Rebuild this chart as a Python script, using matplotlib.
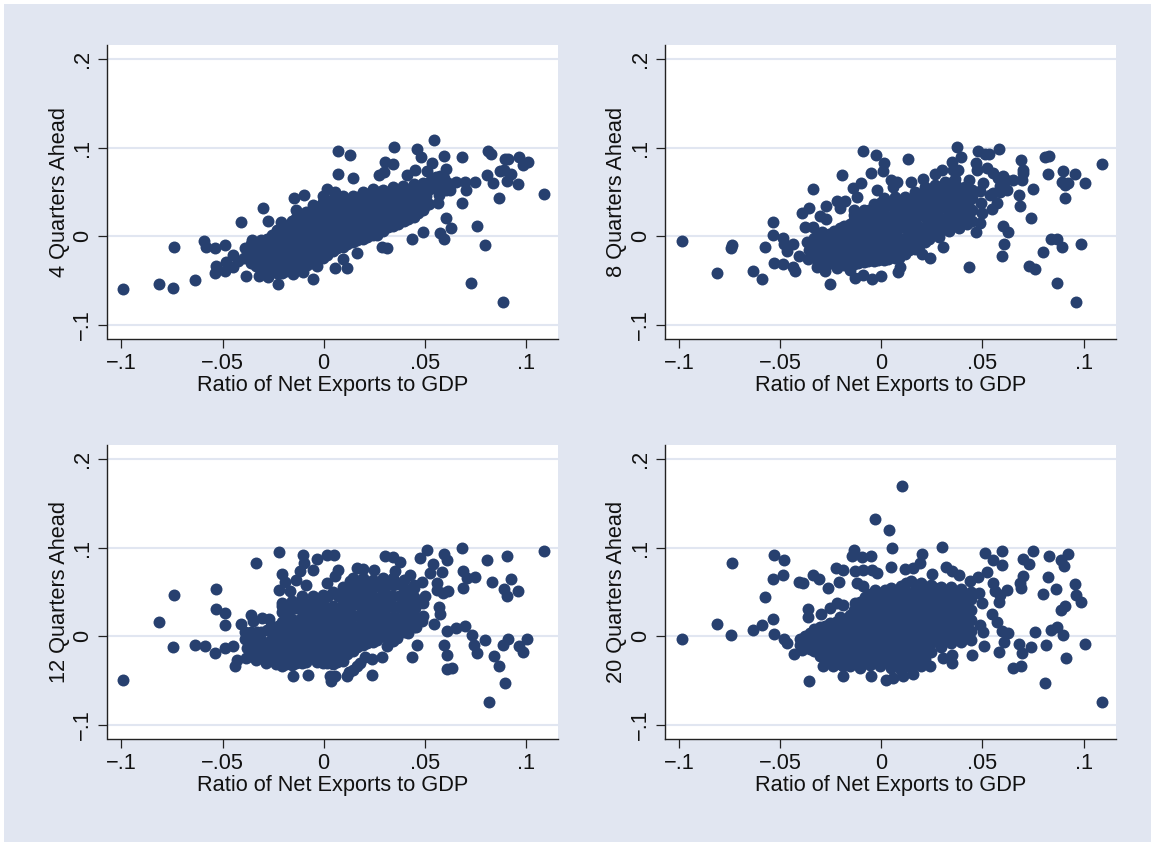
import matplotlib
matplotlib.use("Agg")
import matplotlib.pyplot as plt
from matplotlib.patches import Rectangle

plt.rcParams['font.family'] = ['Liberation Sans', 'DejaVu Sans']

BG = '#E1E6F1'
NAVY = '#27406F'

xticks = [-0.1, -0.05, 0, 0.05, 0.1]
xticklabels = ['\u2212.1', '\u2212.05', '0', '.05', '.1']
yticks = [-0.1, 0, 0.1, 0.2]
yticklabels = ['\u2212.1', '0', '.1', '.2']
xlabel = 'Ratio of Net Exports to GDP'

# values: (net exports ratio, value ahead)
pts_4q = [
    (-.099, -.059), (-.0815, -.0536), (-.0744, -.0581), (-.0634, -.049), (-.0739, -.0117),
    (-.0591, -.0049), (-.0583, -.0125), (-.0538, -.0132), (-.0487, -.0102), (-.0411, .0166),
    (-.030, .0321), (-.0274, .0177), (-.0538, -.0411), (-.0533, -.0336), (-.0488, -.0389),
    (-.0483, -.0287), (-.0447, -.0343), (-.0447, -.0211), (-.0383, -.0445), (-.0322, -.0449),
    (-.0274, -.0457), (-.0226, -.054), (-.0153, -.0426), (-.0101, -.0404), (-.0054, -.0487),
    (-.0031, -.0336), (.0056, -.0355), (.0117, -.0362), (.0097, -.026), (.0167, -.0192),
    (.0287, -.0117), (.0312, -.0136), (.0436, -.003), (.049, .0053), (.0576, .0042),
    (.0596, -.0026), (.063, .0091), (.0607, .0204), (.0685, .0374), (.0757, .0117),
    (.08, -.0094), (.0731, -.0532), (.0889, -.074), (.1091, .0479), (.0866, .0434),
    (.0959, .0585), (.0909, .0626), (.0926, .0706), (.0893, .0751), (.087, .0732),
    (.084, .06), (.081, .0687), (.0749, .0611), (.07, .0611), (.0703, .0517),
    (.0655, .0611), (.0686, .0894), (.0597, .0906), (.0546, .1091), (.0464, .0985),
    (.048, .0894), (.0535, .0826), (.0348, .1008), (.0071, .0958), (.0132, .0913),
    (.0304, .0834), (.0342, .0815), (.0276, .0687), (.03, .0721), (.0071, .0698),
    (.0144, .0653), (.0815, .0962), (.0827, .0925), (.0898, .0868), (.0914, .0868),
    (.0967, .0894), (.1012, .0842), (.0988, .08), (.0606, .0758), (.0576, .0675),
    (.051, .0732), (.0452, .0751), (.0414, .0694), (.0615, .06), (.0585, .052),
    (.056, .061), (.0625, .0525), (.053, .063), (.0492, .0605), (.0472, .055),
    (.052, .037), (.0565, .0375), (.0495, .0325), (.0452, .0415), (.0505, .045),
    (-.0145, .0435), (-.0098, .0465), (.0015, .053), (.0055, .0505), (.0095, .0455),
    (-.0135, .0295), (-.021, .0165), (-.0128, .0225),
    (.0535, .055), (.057, .047), (.0605, .052), (.0555, .067), (.0515, .052), (.0595, .066),
    # dense middle of the cloud
    (-.0395, -.0245), (-.0388, -.0135), (-.0425, -.028),
    (-.0335, -.034), (-.0328, -.022), (-.0332, -.0105), (-.0355, -.0045),
    (-.0282, -.037), (-.0276, -.025), (-.0285, -.014), (-.0279, -.003),
    (-.0232, -.041), (-.0228, -.029), (-.0235, -.018), (-.0226, -.006), (-.0231, .0075),
    (-.0184, -.039), (-.0178, -.027), (-.0186, -.015), (-.0176, -.003), (-.0182, .0115),
    (-.0134, -.035), (-.0128, -.023), (-.0136, -.011), (-.0127, .001), (-.0131, .012), (-.0138, .021),
    (-.0084, -.032), (-.0078, -.02), (-.0086, -.008), (-.0077, .004), (-.0081, .015), (-.0085, .027),
    (-.0034, -.027), (-.0028, -.015), (-.0036, -.003), (-.0027, .009), (-.0031, .02), (-.0035, .033),
    (.0016, -.021), (.0022, -.009), (.0014, .003), (.0023, .015), (.0019, .027), (.0015, .04),
    (.0066, -.013), (.0072, -.001), (.0064, .011), (.0073, .023), (.0069, .036),
    (.0116, -.009), (.0122, .003), (.0114, .015), (.0123, .027), (.0119, .038),
    (.0166, -.004), (.0172, .008), (.0164, .02), (.0173, .032), (.0169, .044),
    (.0216, -.001), (.0222, .011), (.0214, .023), (.0223, .035), (.0219, .048),
    (.0266, .002), (.0272, .014), (.0264, .026), (.0273, .038), (.0269, .05),
    (.0316, .01), (.0322, .022), (.0314, .034), (.0323, .046), (.0345, .052),
    (.0366, .014), (.0372, .026), (.0364, .038), (.0373, .05), (.039, .057),
    (.0416, .019), (.0422, .031), (.0414, .043), (.0423, .052), (.0445, .059),
    (.0465, .026), (.0472, .038), (.0464, .048),
]

# more of the solid cloud, by net exports ratio
fill_4q = {
    -.036: [-.03, -.024, -.018, -.014, -.009],
    -.031: [-.037, -.031, -.026, -.02, -.015, -.009, -.004],
    -.0255: [-.04, -.034, -.03, -.024, -.02, -.014, -.009, -.004, .001],
    -.0205: [-.042, -.037, -.033, -.027, -.022, -.017, -.012, -.006, 0, .005, .01],
    -.0155: [-.036, -.031, -.026, -.02, -.014, -.009, -.004, .002, .007, .012, .017],
    -.0105: [-.034, -.029, -.023, -.018, -.012, -.007, -.002, .005, .01, .016, .021],
    -.0055: [-.03, -.025, -.02, -.014, -.009, -.003, .002, .008, .014, .02, .026, .03, .035],
    -.0005: [-.024, -.019, -.014, -.008, -.002, .003, .009, .015, .021, .027, .033, .039, .045],
    .0045: [-.017, -.011, -.006, 0, .006, .012, .018, .024, .03, .036, .042],
    .0095: [-.012, -.007, -.002, .004, .01, .016, .022, .028, .033, .04],
    .0145: [-.006, -.001, .004, .009, .014, .02, .026, .032, .039, .046],
    .0195: [-.003, .001, .006, .012, .017, .023, .029, .035, .042, .046, .05],
    .0245: [.001, .005, .009, .015, .02, .026, .032, .038, .044, .049, .053],
    .0295: [.006, .011, .016, .022, .028, .034, .04, .046, .052],
    .0345: [.012, .016, .02, .026, .032, .038, .043, .05, .056],
    .0395: [.017, .021, .026, .032, .037, .043, .048, .054],
    .0445: [.022, .028, .033, .039, .045, .05, .056],
    .049: [.03, .041, .05],
}

pts_8q = [
    (-.0988, -.0053), (-.0812, -.0411), (-.0743, -.0128), (-.0738, -.0098), (-.0633, -.0392),
    (-.0591, -.0487), (-.0578, -.0121), (-.0537, .0166), (-.0535, .0011), (-.053, -.0306),
    (-.0488, -.0317), (-.0488, -.0023), (-.0484, -.0087), (-.0468, -.0162), (-.0435, -.0087),
    (-.0435, -.0343), (-.0427, -.0389), (-.041, -.0223), (-.0392, .026), (-.0357, .0321),
    (-.0336, .0532), (-.0303, .0234), (-.0275, .0347), (-.0275, .0196), (-.0377, .0109),
    (-.0336, .0102), (-.0295, .0053), (-.0252, -.0536), (-.0221, .04), (-.018, .04),
    (-.0204, .0317), (-.0193, .0687), (-.0142, .0547), (-.01, .06), (-.0122, .0449),
    (-.0138, .0298), (-.0089, .0958), (-.0028, .0913), (.0013, .083), (.001, .074),
    (-.0053, .0717), (-.0023, .0525), (.0046, .0638), (.0079, .0608), (.0059, .0551),
    (.0132, .0868), (.0145, .0608), (.0204, .0645), (.0265, .0706), (.0298, .0751),
    (.0348, .0838), (.0372, .1008), (.0394, .0894), (.0356, .0751), (.038, .0751),
    (.0476, .0966), (.0512, .0928), (.0532, .0928), (.0583, .0985), (.0468, .0826),
    (.0471, .0751), (.0521, .077), (.0554, .0713), (.0603, .0675), (.0689, .0864),
    (.0699, .0751), (.0702, .0713), (.0694, .0638), (.0652, .0638), (.0748, .0532),
    (.0682, .0464), (.0684, .0347), (.074, .0204), (.0619, .0525), (.0586, .0562),
    (.0554, .0487), (.0537, .0468), (.0504, .0604), (.0488, .0513), (.0491, .0374),
    (.057, .0374), (.0545, .0306), (.0496, .026), (.0488, .0147), (.0466, .0053),
    (.0603, .0117), (.0628, .0053), (.0606, -.0091), (.0595, -.0223), (.0306, -.0117),
    (.0199, -.0204), (.0241, -.0242), (.0435, -.0343), (.0801, -.0181), (.0728, -.0332),
    (.0758, -.0366), (.0837, -.0026), (.0867, -.0026), (.0891, -.0117), (.0985, -.0091),
    (.0867, -.0532), (.0964, -.074), (.1089, .0819), (.0809, .0894), (.083, .0909),
    (.0825, .0706), (.0896, .0732), (.0957, .0706), (.1007, .0604), (.0891, .0615),
    (.0908, .0574), (.0924, .0604), (.0909, .0434), (.0081, -.04), (.0092, -.0343),
    (-.013, -.0468), (-.0089, -.0438), (-.0048, -.0487), (-.0003, -.0449), (-.0155, -.0381),
    (-.0221, -.0362), (-.0278, -.0389), (-.0319, -.0343), (.0435, .063), (.0415, .055),
    (.0575, .0655), (.0615, .063), (.0585, .05),
    # dense middle of the cloud
    (-.0365, -.026), (-.0358, -.015), (-.0368, -.006),
    (-.0315, -.03), (-.0308, -.019), (-.0318, -.008), (-.0311, .001),
    (-.0265, -.031), (-.0258, -.02), (-.0268, -.009), (-.0261, .003),
    (-.0215, -.031), (-.0208, -.02), (-.0218, -.009), (-.0211, .002), (-.0206, .009),
    (-.0165, -.031), (-.0158, -.02), (-.0168, -.009), (-.0161, .003), (-.0156, .014),
    (-.0115, -.03), (-.0108, -.019), (-.0118, -.008), (-.0111, .004), (-.0106, .02),
    (-.0065, -.028), (-.0058, -.017), (-.0068, -.006), (-.0061, .006), (-.0056, .018), (-.0063, .03),
    (-.0015, -.027), (-.0008, -.016), (-.0018, -.004), (-.0011, .008), (-.0006, .02), (-.0013, .031), (-.0008, .038),
    (.0035, -.026), (.0042, -.015), (.0032, -.003), (.0039, .009), (.0044, .021), (.0037, .035),
    (.0085, -.024), (.0092, -.013), (.0082, -.001), (.0089, .011), (.0094, .023), (.0087, .036),
    (.0135, -.016), (.0142, -.005), (.0132, .007), (.0139, .018), (.0144, .03), (.0137, .041),
    (.0185, -.011), (.0192, .001), (.0182, .012), (.0189, .024), (.0194, .035), (.0187, .047),
    (.0235, -.003), (.0242, .009), (.0232, .02), (.0239, .032), (.0244, .043), (.0237, .052),
    (.0285, -.001), (.0292, .011), (.0282, .023), (.0289, .034), (.0294, .046), (.0287, .056),
    (.0335, .006), (.0342, .018), (.0332, .029), (.0339, .041), (.0344, .052), (.0337, .06),
    (.0385, .009), (.0392, .021), (.0382, .032), (.0389, .044), (.0394, .055),
    (.0425, .014), (.0432, .026), (.0428, .037), (.0434, .046),
]

fill_8q = {
    -.0335: [-.023, -.012, -.002],
    -.0285: [-.025, -.015, -.005, .002],
    -.0235: [-.025, -.015, -.004, .006],
    -.0185: [-.032, -.027, -.016, -.005, .006, .012],
    -.0135: [-.031, -.026, -.015, -.003, .009, .018, .024],
    -.0085: [-.029, -.024, -.012, 0, .012, .024, .03],
    -.0035: [-.028, -.023, -.011, .001, .013, .025, .036],
    .0015: [-.027, -.021, -.01, .002, .014, .026, .037, .043],
    .0065: [-.025, -.019, -.008, .004, .016, .028, .039, .044],
    .0115: [-.02, -.015, -.003, .009, .021, .033, .044],
    .0165: [-.014, -.009, .003, .015, .027, .039, .05],
    .0215: [-.007, -.001, .011, .022, .034, .045, .056],
    .0265: [.004, .016, .027, .039, .051, .058],
    .0315: [.008, .02, .032, .043, .055, .061],
    .0365: [.013, .025, .036, .048, .059, .065],
    .0415: [.018, .03, .04, .05, .056],
    .045: [.017, .03, .043, .052],
}

pts_12q = [
    (-.099, -.049), (-.0815, .0166), (-.0739, .0471), (-.0744, -.0124), (-.0634, -.0094),
    (-.0587, -.0113), (-.0538, -.0192), (-.0488, -.0128), (-.0447, -.0105), (-.0439, -.0331),
    (-.0431, -.0264), (-.0533, .0313), (-.053, .0531), (-.0488, .0264), (-.0487, .0128),
    (-.0409, .0139), (-.036, .0237), (-.0348, .0177), (-.0304, .0203), (-.0271, .0196),
    (-.0337, .0825), (-.0219, .0953), (-.0101, .0915), (-.0097, .0829), (-.0031, .0874),
    (.0015, .0923), (.0051, .0923), (-.0051, .0753), (-.0117, .0734), (-.0208, .0708),
    (-.0191, .061), (-.0137, .064), (-.0087, .0584), (-.0221, .052), (-.0167, .0508),
    (-.0208, .0377), (-.0109, .0452), (.0073, .0753), (.0056, .0678), (.0015, .0603),
    (.0163, .0772), (.0196, .0761), (.0251, .0753), (.013, .0621), (.0304, .0904),
    (.0345, .0896), (.0378, .084), (.0353, .0734), (.0427, .0697), (.0477, .0885),
    (.0513, .0972), (.0543, .0817), (.0596, .093), (.0609, .0859), (.0685, .0994),
    (.0526, .0716), (.0584, .0723), (.0485, .061), (.0502, .046), (.0493, .0377),
    (.0559, .0603), (.0563, .052), (.0617, .0508), (.0592, .049), (.0568, .0331),
    (.0576, .0252), (.0493, .0226), (.0485, .0169), (.0546, .0143), (.0612, .0056),
    (.0655, .0094), (.07, .0113), (.0733, .0011), (.0744, -.0094), (.0757, -.0188),
    (.08, -.0038), (.0596, -.0094), (.0609, -.0215), (.0609, -.0365), (.0634, -.0358),
    (.0464, -.0098), (.0436, -.0237), (.0312, -.0113), (.0345, -.0056), (.0287, -.0237),
    (.0238, -.0252), (.018, -.0301), (.0147, -.0377), (.0117, -.0452), (.0241, -.0437),
    (.0031, -.0444), (.0056, -.0444), (.0035, -.0501), (-.0078, -.0441), (-.0153, -.0444),
    (.0688, .0734), (.0708, .0659), (.0749, .067), (.0691, .0546), (.081, .0866),
    (.0909, .0904), (.1091, .096), (.0832, .0614), (.0926, .0648), (.0893, .0535),
    (.0909, .0452), (.0959, .0508), (.1008, -.0026), (.0914, -.003), (.0889, -.0102),
    (.0965, -.0113), (.0988, -.0181), (.0843, -.0218), (.0866, -.0339), (.0898, -.0527),
    (.0817, -.0742), (.0125, -.0405), (.0165, -.0335), (.0205, -.0235),
    # dense middle of the cloud
    (-.0385, -.024), (-.0378, -.013), (-.0388, -.003), (-.0391, .005),
    (-.0335, -.027), (-.0328, -.016), (-.0338, -.005), (-.0331, .005),
    (-.0285, -.03), (-.0278, -.019), (-.0288, -.008), (-.0281, .007),
    (-.0235, -.031), (-.0228, -.02), (-.0238, -.009), (-.0231, .002), (-.0226, .012),
    (-.0185, -.031), (-.0178, -.02), (-.0188, -.009), (-.0181, .003), (-.0176, .015), (-.0186, .028),
    (-.0135, -.03), (-.0128, -.019), (-.0138, -.007), (-.0131, .005), (-.0126, .017), (-.0136, .032),
    (-.0085, -.029), (-.0078, -.018), (-.0088, -.006), (-.0081, .006), (-.0076, .018), (-.0086, .03), (-.0079, .037),
    (-.0035, -.029), (-.0028, -.018), (-.0038, -.006), (-.0031, .006), (-.0026, .018), (-.0036, .03), (-.0029, .041),
    (.0015, -.03), (.0022, -.019), (.0012, -.007), (.0019, .005), (.0024, .017), (.0014, .029), (.0021, .046),
    (.0065, -.029), (.0072, -.018), (.0062, -.006), (.0069, .006), (.0074, .018), (.0064, .03), (.0071, .046),
    (.0115, -.02), (.0122, -.009), (.0112, .003), (.0119, .015), (.0124, .027), (.0114, .039), (.0121, .05),
    (.0165, -.012), (.0172, -.001), (.0162, .011), (.0169, .023), (.0174, .035), (.0164, .047), (.0171, .058),
    (.0215, -.008), (.0222, .003), (.0212, .015), (.0219, .027), (.0224, .039), (.0214, .051), (.0221, .058),
    (.0265, -.004), (.0272, .007), (.0262, .019), (.0269, .031), (.0274, .043), (.0264, .057),
    (.0315, -.002), (.0322, .009), (.0312, .021), (.0319, .033), (.0324, .045), (.0314, .058),
    (.0365, -.002), (.0372, .009), (.0362, .021), (.0369, .033), (.0374, .045), (.0364, .059),
    (.0415, .004), (.0422, .015), (.0412, .027), (.0419, .039), (.0424, .05),
    (.0455, .01), (.0462, .021), (.0452, .032), (.0459, .04),
]

fill_12q = {
    -.036: [-.022, -.012, -.002, .005],
    -.031: [-.023, -.014, -.004, .005],
    -.026: [-.024, -.014, -.004, .008, .012],
    -.0205: [-.033, -.027, -.016, -.005, .006, .016, .028, .034],
    -.0155: [-.032, -.026, -.015, -.004, .008, .02, .032, .04],
    -.0105: [-.03, -.024, -.013, -.002, .01, .022, .034, .04],
    -.0055: [-.023, -.012, 0, .012, .024, .036, .045],
    -.0005: [-.03, -.024, -.013, -.001, .011, .023, .036, .047],
    .0045: [-.031, -.025, -.014, -.002, .01, .022, .034, .05],
    .0095: [-.028, -.022, -.01, .001, .013, .025, .037, .049, .056],
    .0145: [-.017, -.011, 0, .012, .024, .036, .048, .06, .066],
    .0195: [-.01, -.004, .007, .018, .03, .042, .054, .066],
    .0245: [-.006, 0, .01, .022, .034, .046, .058, .064],
    .0295: [.003, .014, .026, .038, .05, .062, .066],
    .0345: [.003, .012, .022, .034, .046, .058, .066],
    .0395: [.005, .018, .03, .042, .054, .064],
    .0445: [.011, .02, .032, .044, .054, .058],
}

pts_20q = [
    (.01, .1695), (-.0033, .1326), (.004, .1202), (.0053, .0998), (.03, .1013),
    (.0203, .093), (-.074, .0829), (-.053, .0923), (-.0484, .0866), (-.0488, .0693),
    (-.0537, .0652), (-.0578, .0448), (-.041, .061), (-.039, .0603), (-.0336, .0697),
    (-.0308, .0652), (-.0265, .0546), (-.0537, .02), (-.0812, .0143), (-.0591, .0132),
    (-.0633, .0068), (-.0743, .0011), (-.0988, -.003), (-.053, .003), (-.0484, -.003),
    (-.0468, -.0075), (-.043, -.02), (-.0394, -.0151), (-.0356, -.0501), (-.0361, .0309),
    (-.0361, .0218), (-.03, .0256), (-.0254, .032), (-.0221, .0377), (-.0191, .0358),
    (-.0224, .0772), (-.0188, .0746), (-.0208, .061), (-.0138, .0979), (-.0147, .0911),
    (-.0097, .0896), (-.0053, .0911), (-.013, .0734), (-.0089, .0753), (-.0048, .0753),
    (-.002, .0716), (-.0122, .0603), (-.0089, .0565), (.0046, .0783), (.0117, .0761),
    (.0158, .0772), (.0191, .0829), (.0249, .0708), (.032, .0783), (.0348, .0734),
    (.0384, .0693), (.0438, .0621), (.0479, .067), (.0521, .0731), (.0512, .0942),
    (.0554, .0866), (.0595, .096), (.0598, .081), (.0554, .0603), (.0562, .0508),
    (.0586, .0471), (.0619, .052), (.0583, .0384), (.0484, .049), (.0496, .0377),
    (.0545, .0256), (.057, .0158), (.0488, .0132), (.0501, .0045), (.0595, .0056),
    (.0628, .0038), (.0608, -.0068), (.0509, -.0105), (.045, -.0211), (.0583, -.0181),
    (.0702, .0874), (.0731, .0821), (.0748, .0964), (.0702, .0685), (.0685, .0603),
    (.0689, .0546), (.0829, .0904), (.0888, .0866), (.0904, .0798), (.0923, .0934),
    (.0825, .0667), (.0865, .0535), (.0801, .0478), (.0957, .0595), (.0962, .0471),
    (.0985, .0388), (.0888, .0301), (.0909, .0339), (.0758, .0049), (.0837, .0068),
    (.0867, .0105), (.0896, .0011), (.0682, -.009), (.0697, -.0188), (.074, -.0124),
    (.0814, -.0094), (.1007, -.0087), (.0911, -.0241), (.0649, -.0362), (.0689, -.0339),
    (.0809, -.0531), (.1089, -.0738), (.0348, -.0207), (.0348, -.0301), (.0306, -.0245),
    (.0241, -.0339), (.0155, -.0429), (.0109, -.0444), (.0059, -.0471), (.0021, -.049),
    (-.0053, -.0452), (-.0105, -.0358), (-.0188, -.0452), (-.0188, -.0339), (-.0237, -.0339),
    (-.0287, -.0331),
    # dense middle of the cloud
    (-.0385, -.008), (-.0378, .0),
    (-.0335, -.017), (-.0328, -.006), (-.0332, .008),
    (-.0285, -.022), (-.0278, -.011), (-.0288, .001), (-.0281, .012),
    (-.0235, -.027), (-.0228, -.016), (-.0238, -.005), (-.0231, .006), (-.0226, .016),
    (-.0185, -.028), (-.0178, -.017), (-.0188, -.006), (-.0181, .006), (-.0176, .02),
    (-.0135, -.028), (-.0128, -.017), (-.0138, -.006), (-.0131, .006), (-.0126, .018), (-.0136, .03), (-.0129, .038),
    (-.0085, -.028), (-.0078, -.017), (-.0088, -.005), (-.0081, .007), (-.0076, .019), (-.0086, .031), (-.0079, .044),
    (-.0035, -.028), (-.0028, -.017), (-.0038, -.005), (-.0031, .007), (-.0026, .019), (-.0036, .031), (-.0029, .043), (-.0034, .052),
    (.0015, -.028), (.0022, -.017), (.0012, -.005), (.0019, .007), (.0024, .019), (.0014, .031), (.0021, .043), (.0016, .052),
    (.0065, -.03), (.0072, -.019), (.0062, -.007), (.0069, .005), (.0074, .017), (.0064, .029), (.0071, .041), (.0066, .05),
    (.0115, -.032), (.0122, -.021), (.0112, -.009), (.0119, .003), (.0124, .015), (.0114, .027), (.0121, .039), (.0116, .051), (.0122, .06),
    (.0165, -.03), (.0172, -.019), (.0162, -.007), (.0169, .005), (.0174, .017), (.0164, .029), (.0171, .041), (.0166, .052), (.0172, .058),
    (.0215, -.025), (.0222, -.014), (.0212, -.002), (.0219, .01), (.0224, .022), (.0214, .034), (.0221, .046), (.0216, .056),
    (.0265, -.005), (.0272, .006), (.0262, .018), (.0269, .03), (.0274, .042), (.0264, .054),
    (.0315, -.004), (.0322, .007), (.0312, .019), (.0319, .031), (.0324, .043), (.0314, .052),
    (.0365, -.002), (.0372, .009), (.0362, .021), (.0369, .033), (.0374, .045), (.0364, .05),
    (.0415, -.002), (.0422, .009), (.0412, .021), (.0419, .033), (.0424, .045),
]

fill_20q = {
    -.0405: [-.01, -.003],
    -.0355: [-.014, -.004, .004],
    -.0305: [-.022, -.011, 0, .01],
    -.0255: [-.029, -.018, -.007, .005, .015],
    -.0205: [-.031, -.02, -.009, .003, .014, .022],
    -.0155: [-.034, -.023, -.012, 0, .012, .024],
    -.0105: [-.031, -.02, -.009, .003, .015, .027, .039],
    -.0055: [-.032, -.021, -.01, .002, .014, .026, .038, .048],
    -.0005: [-.034, -.023, -.011, .001, .013, .025, .037, .049],
    .0045: [-.036, -.025, -.013, -.001, .011, .023, .035, .047, .055],
    .0095: [-.038, -.027, -.015, -.003, .009, .021, .033, .045, .057],
    .0145: [-.036, -.025, -.013, -.001, .011, .023, .035, .047, .062],
    .0195: [-.033, -.022, -.01, .002, .014, .026, .038, .05, .06],
    .0245: [-.018, -.008, .004, .016, .028, .04, .052, .058],
    .0295: [-.012, -.002, .01, .022, .034, .046, .056],
    .0345: [-.008, .002, .014, .026, .038, .05, .056],
    .0395: [-.006, .005, .017, .029, .041, .053],
    .0445: [-.004, .006, .018, .03, .042, .05],
}

series = [(pts_4q, fill_4q), (pts_8q, fill_8q), (pts_12q, fill_12q), (pts_20q, fill_20q)]
ylabels = ['4 Quarters Ahead', '8 Quarters Ahead', '12 Quarters Ahead', '20 Quarters Ahead']

W, H = 1151, 842
# panel boxes in pixels: left, top, right, bottom
boxes = [(107.5, 45, 558, 338.7), (665.3, 45, 1115.7, 338.7),
         (107.5, 445, 558, 738.8), (665.3, 445, 1115.7, 738.8)]

fig = plt.figure(figsize=(W / 100, H / 100), dpi=100, facecolor='white')
fig.add_artist(Rectangle((4 / W, 0), 1 - 4 / W, 1 - 4 / H, transform=fig.transFigure,
                         facecolor=BG, edgecolor='none', zorder=-10))

for (pts, fill), name, (l, t, r, b) in zip(series, ylabels, boxes):
    ax = fig.add_axes([l / W, 1 - b / H, (r - l) / W, (b - t) / H], facecolor='white')
    x = [p[0] for p in pts]
    y = [p[1] for p in pts]
    for col in fill:
        for val in fill[col]:
            x.append(col)
            y.append(val)
    ax.scatter(x, y, s=74, color=NAVY, linewidths=0, zorder=3)

    ax.set_xlim(-0.1069, 0.1159)
    ax.set_ylim(-0.1156, 0.2159)
    ax.set_xticks(xticks)
    ax.set_xticklabels(xticklabels)
    ax.set_yticks(yticks)
    ax.set_yticklabels(yticklabels, rotation=90, va='center')
    ax.tick_params(axis='both', length=6.2, width=0.9, color='#222222', labelsize=15.7, labelcolor='#111111', pad=4)
    ax.grid(axis='y', color=BG, linewidth=1.5, zorder=1)
    ax.set_axisbelow(True)
    for side in ['top', 'right']:
        ax.spines[side].set_visible(False)
    for side in ['left', 'bottom']:
        ax.spines[side].set_linewidth(1.0)
        ax.spines[side].set_color('#222222')
    ax.set_xlabel(xlabel, fontsize=15.7, color='#111111', labelpad=1)
    ax.set_ylabel(name, fontsize=15.7, color='#111111', labelpad=2)

fig.savefig('out.png', dpi=100, facecolor='white')
